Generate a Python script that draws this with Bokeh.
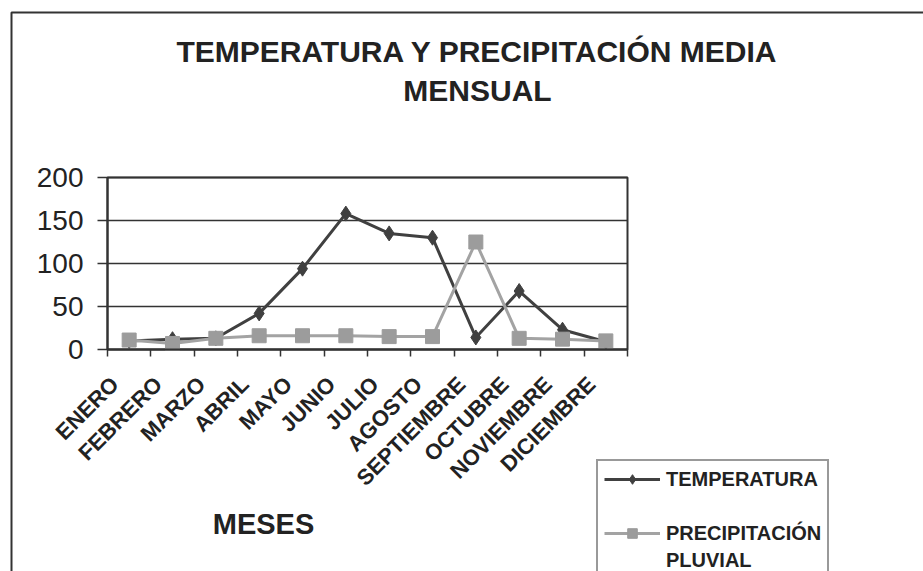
import numpy as np
from bokeh.plotting import figure
from bokeh.models import (Legend, LegendItem, FixedTicker, Range1d, Label,
                          BoxAnnotation, ColumnDataSource, LinearAxis)
from bokeh.embed import file_html
from bokeh.resources import INLINE

# ---- data ----
meses = ["ENERO", "FEBRERO", "MARZO", "ABRIL", "MAYO", "JUNIO", "JULIO",
         "AGOSTO", "SEPTIEMBRE", "OCTUBRE", "NOVIEMBRE", "DICIEMBRE"]
temperatura = [10, 12, 13, 42, 94, 158, 135, 130, 14, 68, 23, 9]
precipitacion = [11, 7, 13, 16, 16, 16, 15, 15, 125, 13, 12, 10]
y_ticks = [0, 50, 100, 150, 200]

titulo = ["TEMPERATURA Y PRECIPITACIÓN MEDIA", "MENSUAL"]
eje_x = "MESES"
serie_1 = "TEMPERATURA"
serie_2 = ["PRECIPITACIÓN", "PLUVIAL"]

n = len(meses)
ymax = max(y_ticks)
centers = [i + 0.5 for i in range(n)]
bounds = list(range(n + 1))
LABEL_SHIFT = 0.33  # month labels sit slightly left of the category centre
label_pos = [c - LABEL_SHIFT for c in centers]

# ---- layout (pixels) ----
W, H = 923, 571
PL, PR, PT, PB = 107, 627, 177, 349      # plot-area edges on the page
sx = (PR - PL) / n                      # px per category
sy = (PB - PT) / ymax                   # px per unit
x_rng = Range1d(-PL / sx, n + (W - PR) / sx)
y_rng = Range1d(-(H - PB) / sy, ymax + PT / sy)

DARK = "#333333"
SER1 = "#404040"
SER2 = "#a3a3a3"
MK2 = "#9c9c9c"
TXT = "#222222"
FONT = "Liberation Sans"

src = ColumnDataSource(dict(x=centers, t=temperatura, p=precipitacion))
grid_src = ColumnDataSource(dict(y=y_ticks))

p = figure(width=W, height=H, output_backend="svg", toolbar_location=None,
           x_range=x_rng, y_range=y_rng, x_axis_type=None, y_axis_type=None,
           min_border=0, min_border_left=0, min_border_right=0,
           min_border_top=0, min_border_bottom=0)
p.grid.visible = False
p.outline_line_color = None
p.background_fill_color = "white"
p.border_fill_color = "white"

# axes (drawn at the data origin)
xax = LinearAxis(fixed_location=0, bounds=(0, n))
xax.ticker = FixedTicker(ticks=label_pos, minor_ticks=bounds)
xax.major_label_overrides = {c: m for c, m in zip(label_pos, meses)}
xax.major_label_orientation = np.pi / 4
xax.major_tick_line_color = None
xax.major_tick_out = 0
xax.major_tick_in = 0
xax.minor_tick_line_color = DARK
xax.minor_tick_line_width = 1.5
xax.minor_tick_out = 7
xax.minor_tick_in = 0
xax.axis_line_color = DARK
xax.axis_line_width = 2
xax.major_label_text_font = FONT
xax.major_label_text_font_style = "bold"
xax.major_label_text_font_size = "22px"
xax.major_label_text_color = TXT
xax.major_label_standoff = 24
p.add_layout(xax, "below")

yax = LinearAxis(fixed_location=0, bounds=(0, ymax))
yax.ticker = FixedTicker(ticks=y_ticks, minor_ticks=[])
yax.major_tick_out = 10
yax.major_tick_in = 0
yax.major_tick_line_color = DARK
yax.major_tick_line_width = 1.5
yax.axis_line_color = DARK
yax.axis_line_width = 2
yax.major_label_text_font = FONT
yax.major_label_text_font_size = "28px"
yax.major_label_text_color = TXT
yax.major_label_standoff = 14
p.add_layout(yax, "left")

# horizontal gridlines at the y ticks, across the plot area
p.segment(x0=0, x1=n, y0="y", y1="y", source=grid_src,
          line_color=DARK, line_width=1.5)
# plot-area border
p.add_layout(BoxAnnotation(left=0, right=n, bottom=0, top=ymax,
                           fill_alpha=0, line_alpha=1,
                           line_color=DARK, line_width=2, level="underlay"))

# series
l1 = p.line("x", "t", source=src, line_color=SER1, line_width=3)
m1 = p.scatter("x", "t", source=src, marker="diamond", size=15,
               fill_color=SER1, line_color=SER1)
l2 = p.line("x", "p", source=src, line_color=SER2, line_width=3)
m2 = p.scatter("x", "p", source=src, marker="square", size=14,
               fill_color=MK2, line_color=MK2)
blank = p.line(x=[], y=[], line_alpha=0)

# outer chart frame: only its top and left edges fall inside the picture
p.add_layout(BoxAnnotation(left=11, top=H - 12, right=W + 50, bottom=-50,
                           left_units="screen", right_units="screen",
                           top_units="screen", bottom_units="screen",
                           fill_alpha=0, line_alpha=1,
                           line_color=DARK, line_width=2))

# titles (screen units: from the bottom-left corner of the canvas)
for txt, yy in zip(titulo, [51, 90]):
    p.add_layout(Label(x=477, y=H - yy, x_units="screen", y_units="screen",
                       text=txt, text_align="center", text_baseline="middle",
                       text_font=FONT, text_font_style="bold",
                       text_font_size="30px", text_color=TXT))
p.add_layout(Label(x=263, y=H - 523, x_units="screen", y_units="screen",
                   text=eje_x, text_align="center", text_baseline="middle",
                   text_font=FONT, text_font_style="bold",
                   text_font_size="29px", text_color=TXT))

legend = Legend(items=[
    LegendItem(label=serie_1, renderers=[l1, m1]),
    LegendItem(label=" ", renderers=[blank]),
    LegendItem(label=serie_2[0], renderers=[l2, m2]),
    LegendItem(label=serie_2[1], renderers=[blank]),
], location=(596, -9))
legend.label_text_font = FONT
legend.label_text_font_style = "bold"
legend.label_text_font_size = "20px"
legend.label_text_color = TXT
legend.label_height = 24
legend.glyph_height = 24
legend.glyph_width = 56
legend.label_standoff = 6
legend.spacing = 3
legend.padding = 6
legend.margin = 0
legend.border_line_color = DARK
legend.border_line_width = 2
legend.background_fill_alpha = 0
p.add_layout(legend, "center")

open("out.html", "w").write(file_html(p, INLINE))
